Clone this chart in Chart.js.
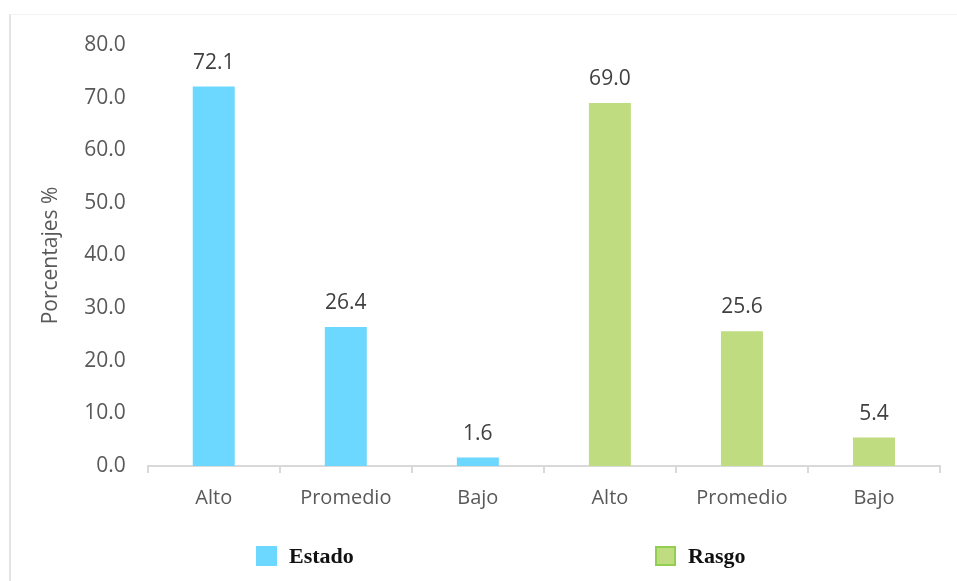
<!DOCTYPE html>
<html>
<head>
<meta charset="utf-8">
<script src="https://cdn.jsdelivr.net/npm/chart.js@4"></script>
<style>
  html, body { margin: 0; padding: 0; background: #fff; }
  #wrap { position: relative; width: 957px; height: 581px; }
  #frame { position: absolute; left: 9px; top: 14px; right: 0; bottom: 0;
           border-left: 2px solid #e4e4e4; border-top: 1px solid #f3f3f3; }
  canvas { position: absolute; left: 0; top: 0; }
</style>
</head>
<body>
<div id="wrap">
  <div id="frame"></div>
  <canvas id="chart" width="957" height="581"></canvas>
</div>
<script>
(function () {
  'use strict';

  const categories = ['Alto', 'Promedio', 'Bajo', 'Alto', 'Promedio', 'Bajo'];
  const estado = [72.1, 26.4, 1.6, null, null, null];
  const rasgo = [null, null, null, 69.0, 25.6, 5.4];
  const yTicks = [0, 10, 20, 30, 40, 50, 60, 70, 80];

  const cyan = '#6dd8ff';
  const green = '#bfdc80';
  const greenEdge = '#92cf50';
  const tickColor = '#595959';
  const font = "'Open Sans', sans-serif";

  // value labels above the bars
  const valueLabels = {
    id: 'valueLabels',
    afterDatasetsDraw(chart) {
      const ctx = chart.ctx;
      ctx.save();
      ctx.font = '21px ' + font;
      ctx.fillStyle = '#404040';
      ctx.textAlign = 'center';
      ctx.textBaseline = 'alphabetic';
      chart.data.datasets.forEach((ds, i) => {
        chart.getDatasetMeta(i).data.forEach((bar, j) => {
          if (ds.data[j] == null) return;
          ctx.fillText(ds.data[j].toFixed(1), bar.x, bar.y - 18);
        });
      });
      ctx.restore();
    },
  };

  // spaced legend at the bottom, serif bold like the source
  const spacedLegend = {
    id: 'spacedLegend',
    afterDraw(chart) {
      const ctx = chart.ctx;
      const spots = [256, 655];
      ctx.save();
      ctx.font = "bold 22px 'Liberation Serif', serif";
      ctx.textBaseline = 'middle';
      chart.data.datasets.forEach((ds, i) => {
        const x = spots[i];
        const y = 556;
        ctx.fillStyle = ds.backgroundColor;
        ctx.fillRect(x, y - 10, 21, 20);
        if (ds.legendEdge) {
          ctx.strokeStyle = ds.legendEdge;
          ctx.lineWidth = 2;
          ctx.strokeRect(x + 1, y - 9, 19, 18);
        }
        ctx.fillStyle = '#111';
        ctx.fillText(ds.label, x + 33, y + 1);
      });
      ctx.restore();
    },
  };

  new Chart(document.getElementById('chart'), {
    type: 'bar',
    data: {
      labels: categories,
      datasets: [
        { label: 'Estado', data: estado, backgroundColor: cyan },
        { label: 'Rasgo', data: rasgo, backgroundColor: green, legendEdge: greenEdge },
      ],
    },
    options: {
      responsive: false,
      animation: false,
      skipNull: true,
      categoryPercentage: 1,
      barPercentage: 0.318,
      layout: { padding: { left: 38, right: 17, top: 45, bottom: 58 } },
      plugins: {
        legend: { display: false },
        tooltip: { enabled: false },
      },
      scales: {
        x: {
          grid: { display: true, drawOnChartArea: false, drawTicks: true, tickLength: 7, color: '#d9d9d9', lineWidth: 2 },
          border: { display: true, color: '#d9d9d9', width: 2 },
          ticks: { color: tickColor, font: { family: font, size: 20 }, padding: 13 },
        },
        y: {
          min: 0,
          max: 80,
          afterBuildTicks(axis) { axis.ticks = yTicks.map((v) => ({ value: v })); },
          grid: { display: false },
          border: { display: false },
          ticks: {
            color: tickColor,
            font: { family: font, size: 21 },
            padding: 14,
            callback: (v) => Number(v).toFixed(1),
          },
          title: {
            display: true,
            text: 'Porcentajes %',
            color: tickColor,
            font: { family: font, size: 21 },
            padding: { top: 0, bottom: 7 },
          },
        },
      },
    },
    plugins: [valueLabels, spacedLegend],
  });
})();
</script>
</body>
</html>
